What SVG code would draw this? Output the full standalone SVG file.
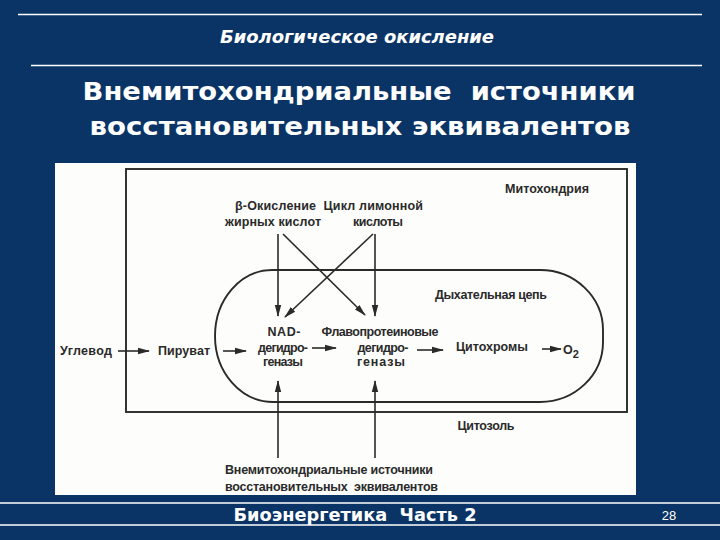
<svg xmlns="http://www.w3.org/2000/svg" width="720" height="540" viewBox="0 0 720 540">
<defs>
<marker id="ah" viewBox="0 0 12 8" refX="11" refY="4" markerWidth="12" markerHeight="8" markerUnits="userSpaceOnUse" orient="auto">
<path d="M0,0.8 L12,4 L0,7.2 Z" fill="#2a2a2a"/>
</marker>
</defs>
<style>
.rule{stroke:#ffffff;stroke-width:1.3}
.hd{font-family:"DejaVu Sans","Liberation Sans",sans-serif;font-weight:bold;fill:#ffffff}
.t{font-family:"Liberation Sans","DejaVu Sans",sans-serif;font-weight:bold;font-size:12.5px;fill:#2a2a2a}
.ln{stroke:#2a2a2a;stroke-width:1.9;fill:none}
.ar{stroke:#2a2a2a;stroke-width:1.6;fill:none;marker-end:url(#ah)}
</style>
<rect x="0" y="0" width="720" height="540" fill="#0b3466"/>
<g id="header">
<line class="rule" x1="18" y1="14.5" x2="702" y2="14.5"/>
<text class="hd" x="357" y="43" font-size="17" font-style="italic" text-anchor="middle" textLength="274" lengthAdjust="spacingAndGlyphs">Биологическое окисление</text>
<line class="rule" x1="31" y1="65.5" x2="702" y2="65.5"/>
<text class="hd" x="359" y="100" font-size="25" text-anchor="middle" textLength="553" lengthAdjust="spacingAndGlyphs">Внемитохондриальные&#160; источники</text>
<text class="hd" x="360" y="135" font-size="25" text-anchor="middle" textLength="541" lengthAdjust="spacingAndGlyphs">восстановительных эквивалентов</text>
</g>
<rect x="55" y="163" width="581" height="332" fill="#fdfdfb"/>
<g id="mitochondrion">
<rect class="ln" x="126" y="169" width="501" height="243"/>
<text class="t" x="547" y="193" text-anchor="middle" textLength="84">Митохондрия</text>
</g>
<g id="respiratory-chain">
<path class="ln" d="M272,270 H540 A63,60 0 0 1 603,330 V342 A63,60 0 0 1 540,402 H273 A58,66 0 0 1 215,336 A57,66 0 0 1 272,270 Z"/>
<text class="t" x="491" y="299" text-anchor="middle" textLength="112">Дыхательная цепь</text>
</g>
<g id="beta-oxidation">
<text class="t" x="235" y="210" textLength="188">β-Окисление&#160; Цикл лимонной</text>
<text class="t" x="225" y="226" textLength="96">жирных кислот</text>
</g>
<g id="citric-cycle">
<text class="t" x="378" y="226" text-anchor="middle" textLength="50">кислоты</text>
</g>
<g id="carb">
<text class="t" x="60" y="355" textLength="52">Углевод</text>
</g>
<g id="pyruvate">
<text class="t" x="158" y="355" textLength="52">Пируват</text>
</g>
<g id="nad">
<text class="t" x="284" y="336" text-anchor="middle" textLength="33">NAD-</text>
<text class="t" x="283" y="352" text-anchor="middle" textLength="50">дегидро-</text>
<text class="t" x="283" y="366" text-anchor="middle" textLength="40">геназы</text>
</g>
<g id="flavo">
<text class="t" x="380" y="336" text-anchor="middle" textLength="117">Флавопротеиновые</text>
<text class="t" x="383" y="352" text-anchor="middle" textLength="51">дегидро-</text>
<text class="t" x="381" y="366" text-anchor="middle" textLength="48">геназы</text>
</g>
<g id="cyto">
<text class="t" x="456" y="351" textLength="72">Цитохромы</text>
</g>
<g id="o2">
<text class="t" x="563" y="354" font-size="14" font-weight="normal">O<tspan font-size="11" dy="4">2</tspan></text>
</g>
<g id="cytosol">
<text class="t" x="486" y="430" text-anchor="middle" textLength="57">Цитозоль</text>
</g>
<g id="extra">
<text class="t" x="225" y="474" textLength="208">Внемитохондриальные источники</text>
<text class="t" x="225" y="491" textLength="213">восстановительных&#160; эквивалентов</text>
</g>
<g id="connectors">
<line class="ar" x1="278" y1="234" x2="278" y2="316"/>
<line class="ar" x1="283" y1="234" x2="365" y2="315"/>
<line class="ar" x1="373" y1="234" x2="285" y2="317"/>
<line class="ar" x1="375" y1="234" x2="375" y2="316"/>
<line class="ar" x1="118" y1="351" x2="149" y2="351"/>
<line class="ar" x1="223" y1="351" x2="246" y2="351"/>
<line class="ar" x1="312" y1="348" x2="336" y2="348"/>
<line class="ar" x1="417" y1="350" x2="443" y2="350"/>
<line class="ar" x1="542" y1="349" x2="561" y2="349"/>
<line class="ar" x1="278" y1="458" x2="278" y2="381"/>
<line class="ar" x1="375" y1="458" x2="375" y2="381"/>
</g>
<g id="footer">
<line class="rule" x1="0" y1="503" x2="720" y2="503"/>
<line class="rule" x1="0" y1="525" x2="720" y2="525"/>
<text class="hd" x="355" y="521" font-size="17" text-anchor="middle" font-family="Liberation Sans, sans-serif" textLength="243" lengthAdjust="spacingAndGlyphs">Биоэнергетика&#160; Часть 2</text>
<text x="669" y="520" font-family="Liberation Sans, sans-serif" font-size="13" fill="#ffffff" text-anchor="middle">28</text>
</g>
</svg>
